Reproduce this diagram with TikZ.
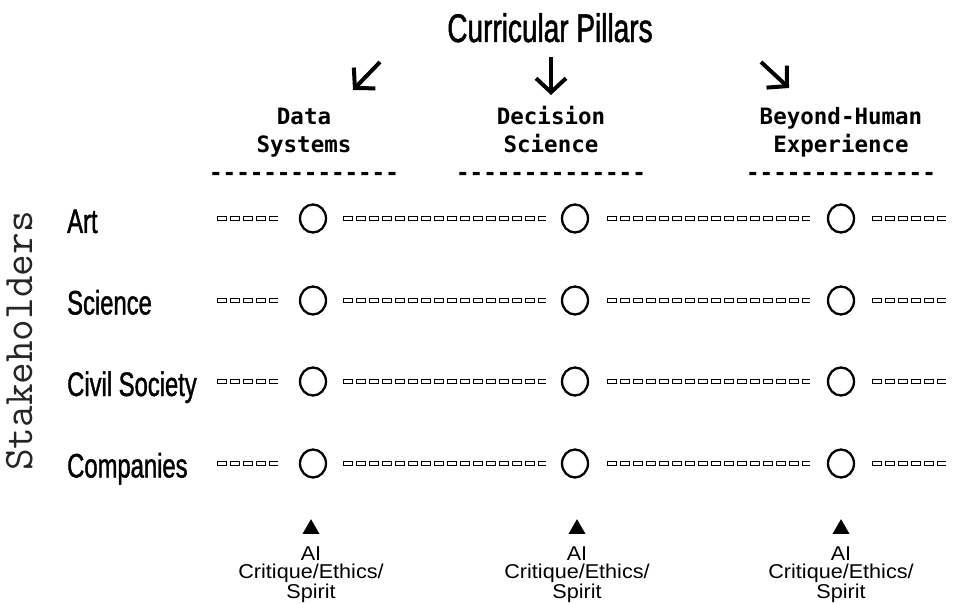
\documentclass[tikz,border=0pt]{standalone}
\usepackage{fontspec}
\setmainfont{Liberation Sans}
\newfontfamily\condfont{Liberation Sans}[FakeStretch=0.7,FakeBold=1.2]
\newfontfamily\pillarfont{DejaVu Sans Mono}
\newfontfamily\notefont{Liberation Sans}[FakeStretch=1.08]
\usetikzlibrary{arrows.meta,shapes.geometric}

\newcommand\pillarstrut{\rule{0pt}{19pt}}
\newcommand\notestrut{\rule{0pt}{14pt}}

\begin{document}
\begin{tikzpicture}[x=1pt,y=-1pt,
  pillar/.style={anchor=north,inner sep=0pt,align=center,
    font=\pillarfont\bfseries\fontsize{22.5}{28}\selectfont},
  rowlabel/.style={anchor=base west,inner sep=0pt,
    font=\condfont\fontsize{34}{34}\selectfont},
  ring/.style={draw,ellipse,line width=2.3pt,inner sep=0pt,
    minimum width=26pt,minimum height=28pt},
  hollowdash/.style={line width=5pt,dash pattern=on 10pt off 3pt,
    postaction={draw=white,line width=3pt,
      dash pattern=on 8pt off 5pt,dash phase=12pt}},
  pillararrow/.style={line width=4pt,
    -{Straight Barb[length=14pt,width=30pt]}},
  marker/.style={fill,regular polygon,regular polygon sides=3,
    minimum size=19.6pt,inner sep=0pt},
  note/.style={anchor=north,inner sep=0pt,align=center,
    font=\notefont\fontsize{20}{18.5}\selectfont}]

\useasboundingbox (0,0) rectangle (953,604);

% Title and arrows
\node[anchor=base,inner sep=0pt,font=\condfont\fontsize{40}{40}\selectfont]
  (title) at (550,42) {Curricular Pillars};
\coordinate (arrA-tail) at (380,62);
\coordinate (arrA-head) at (353,90);
\coordinate (arrB-tail) at (551,57);
\coordinate (arrB-head) at (551,95);
\coordinate (arrC-tail) at (761,62);
\coordinate (arrC-head) at (789,88);
\draw[pillararrow] (arrA-tail) -- (arrA-head);
\draw[pillararrow] (arrB-tail) -- (arrB-head);
\draw[pillararrow] (arrC-tail) -- (arrC-head);

% Pillars
\node[pillar] (pillarA) at (304,105) {\pillarstrut Data\\Systems\\-{}-{}-{}-{}-{}-{}-{}-{}-{}-{}-{}-{}-{}-};
\node[pillar] (pillarB) at (551,105) {\pillarstrut Decision\\Science\\-{}-{}-{}-{}-{}-{}-{}-{}-{}-{}-{}-{}-{}-};
\node[pillar] (pillarC) at (841,105) {\pillarstrut Beyond-Human\\Experience\\-{}-{}-{}-{}-{}-{}-{}-{}-{}-{}-{}-{}-{}-};

% Stakeholders
\node[anchor=base,inner sep=0pt,rotate=90,text=black!85,
  font=\ttfamily\fontsize{42}{42}\selectfont] (stakeholders) at (32,341) {Stakeholders};

\foreach \name/\yb [count=\r] in {Art/233,Science/314.5,Civil Society/396,Companies/477.5}
{
  \pgfmathsetmacro\yc{round(\yb-15)+0.5}
  \node[rowlabel] (row\r) at (67,\yb) {\name};
  \node[ring] (ring\r a) at (313,\yc) {};
  \node[ring] (ring\r b) at (575,\yc) {};
  \node[ring] (ring\r c) at (841,\yc) {};
  \coordinate (start\r) at (217,\yc);
  \coordinate (stop\r) at (946,\yc);
  \draw[hollowdash] (start\r) -- ([xshift=-21pt]ring\r a.west);
  \draw[hollowdash] ([xshift=16pt]ring\r a.east) -- ([xshift=-15pt]ring\r b.west);
  \draw[hollowdash] ([xshift=18pt]ring\r b.east) -- ([xshift=-17pt]ring\r c.west);
  \draw[hollowdash] ([xshift=17pt]ring\r c.east) -- (stop\r);
}

% AI markers
\foreach \x [count=\i] in {311,577,841}
{
  \node[marker] (mark\i) at (\x,529) {};
  \node[note] (note\i) at (\x,546) {\notestrut AI\\Critique/Ethics/\\Spirit};
}
\end{tikzpicture}
\end{document}
